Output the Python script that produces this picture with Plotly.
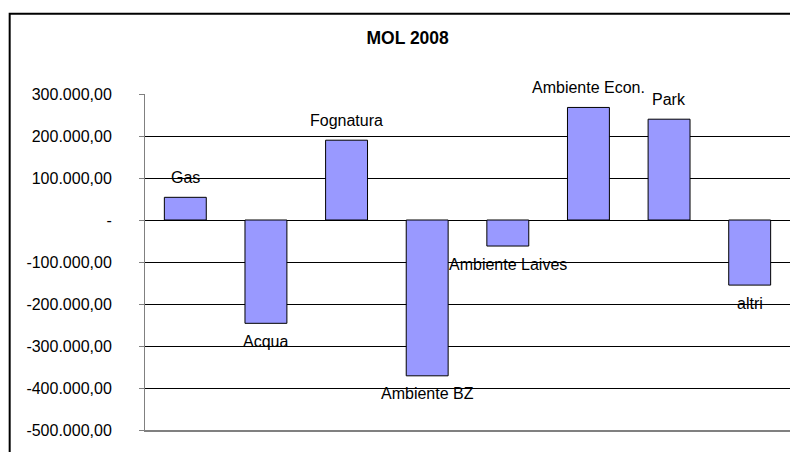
import plotly.graph_objects as go

# MOL 2008 per settore
categories = ["Gas", "Acqua", "Fognatura", "Ambiente BZ", "Ambiente Laives",
              "Ambiente Econ.", "Park", "altri"]
values = [54000, -246000, 190000, -371000, -62000, 268000, 240000, -155000]

tick_vals = [300000, 200000, 100000, 0, -100000, -200000, -300000, -400000, -500000]
tick_text = ["300.000,00", "200.000,00", "100.000,00", "-", "-100.000,00",
             "-200.000,00", "-300.000,00", "-400.000,00", "-500.000,00"]

FONT = "Liberation Sans, Arial, sans-serif"

fig = go.Figure(
    data=[
        go.Bar(
            x=categories,
            y=values,
            width=0.52,
            marker=dict(color="#9999FF", line=dict(color="black", width=1)),
            hoverinfo="x+y",
        )
    ]
)

# category names as labels above / below each bar
for cat, val in zip(categories, values):
    fig.add_annotation(
        x=cat, y=val,
        text=cat,
        showarrow=False,
        yanchor="middle",
        yshift=20 if val >= 0 else -18,
        font=dict(family=FONT, size=16, color="black"),
    )

# outer chart border (runs past the cropped right / bottom edge)
fig.add_shape(type="rect", xref="paper", yref="paper",
              x0=-0.2098, x1=1.05, y0=-0.3, y1=1.239,
              line=dict(color="black", width=2), layer="below")

fig.update_layout(
    width=790,
    height=452,
    margin=dict(l=145, r=0, t=94, b=22),
    paper_bgcolor="white",
    plot_bgcolor="white",
    showlegend=False,
    font=dict(family=FONT, size=16, color="black"),
    title=dict(
        text="<b>MOL 2008</b>",
        x=0.516, xref="container", xanchor="center",
        y=0.916, yref="container", yanchor="middle",
        font=dict(family=FONT, size=17.5, color="black"),
    ),
    xaxis=dict(
        showticklabels=False,
        showgrid=False,
        zeroline=False,
        showline=True,
        linecolor="#808080",
        linewidth=2,
        ticks="",
    ),
    yaxis=dict(
        range=[-500000, 300000],
        tickvals=tick_vals,
        ticktext=tick_text,
        showgrid=True,
        gridcolor="black",
        gridwidth=1,
        zeroline=True,
        zerolinecolor="black",
        zerolinewidth=1,
        showline=True,
        linecolor="#808080",
        linewidth=1,
        ticks="outside",
        ticklen=5,
        tickcolor="#808080",
        ticklabelstandoff=24,
        tickfont=dict(family=FONT, size=16, color="black"),
    ),
)

# drop the default page margin so the figure fills the window exactly
fig.write_html(
    "out.html",
    config={"displayModeBar": False},
    post_script="document.body.style.margin='0';document.body.style.overflow='hidden';",
)
